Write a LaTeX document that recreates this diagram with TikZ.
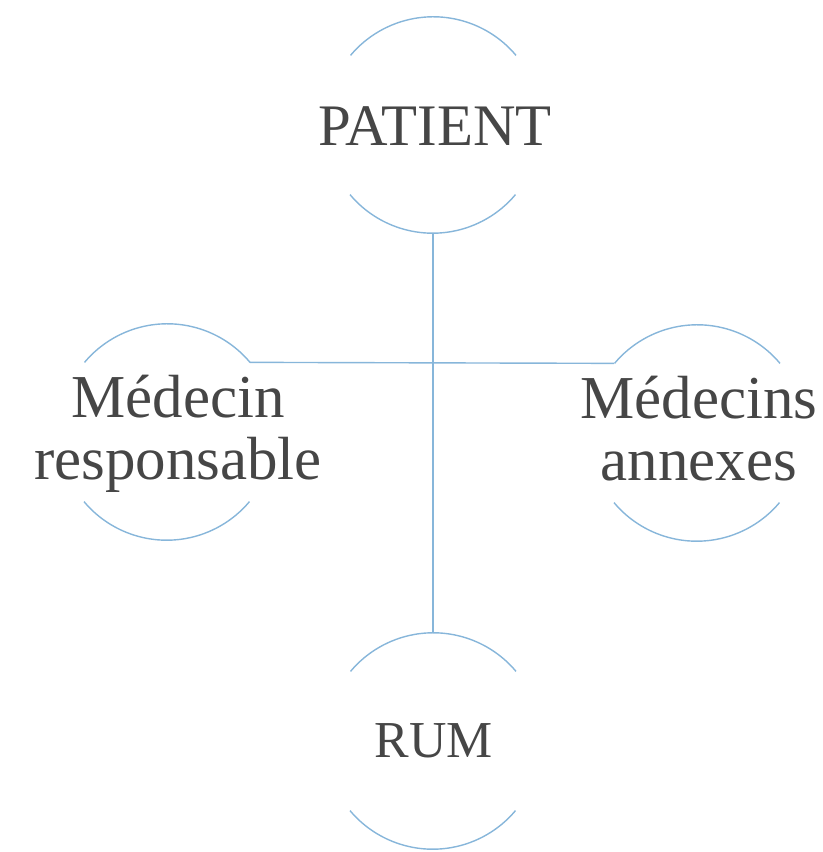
\documentclass[tikz,border=0pt]{standalone}
\usepackage{fontspec}
\setmainfont{Liberation Serif}
\definecolor{linkblue}{RGB}{135,182,218}
\definecolor{txtgrey}{RGB}{70,70,70}
\tikzset{
    hub/.style={circle, minimum size=4.32cm, inner sep=0pt},
    rim/.style={draw=linkblue, line width=0.8pt},
    lbl/.style={text=txtgrey, align=center, inner sep=0pt},
}
% upper and lower arcs of a hub
\newcommand{\hubarcs}[1]{%
    \draw[rim] (#1.40) arc[start angle=40, end angle=140, radius=2.16cm];
    \draw[rim] (#1.220) arc[start angle=220, end angle=320, radius=2.16cm];}
\begin{document}
\begin{tikzpicture}[x=0.02cm, y=0.02cm]
    \useasboundingbox (0,0) rectangle (822,852);
    \node[hub] (pat) at (433,727) {};
    \node[hub] (med) at (167,420) {};
    \node[hub] (ann) at (697,419) {};
    \node[hub] (rum) at (433,111) {};
    \hubarcs{pat}
    \hubarcs{med}
    \hubarcs{ann}
    \hubarcs{rum}
    \draw[rim] (pat.south) -- (rum.north);
    \draw[rim] (med.40) -- (ann.140);
    \node[lbl, font=\fontsize{33.5}{36}\selectfont] (pat-t) at (435,726) {PATIENT};
    \node[lbl, font=\fontsize{34.7}{35.3}\selectfont] (med-t) at (178,418) {Médecin\\responsable};
    \node[lbl, font=\fontsize{34.7}{35.3}\selectfont] (ann-t) at (699,423) {Médecins\\annexes};
    \node[lbl, font=\fontsize{29.5}{33}\selectfont] (rum-t) at (434,111) {RUM};
\end{tikzpicture}
\end{document}
